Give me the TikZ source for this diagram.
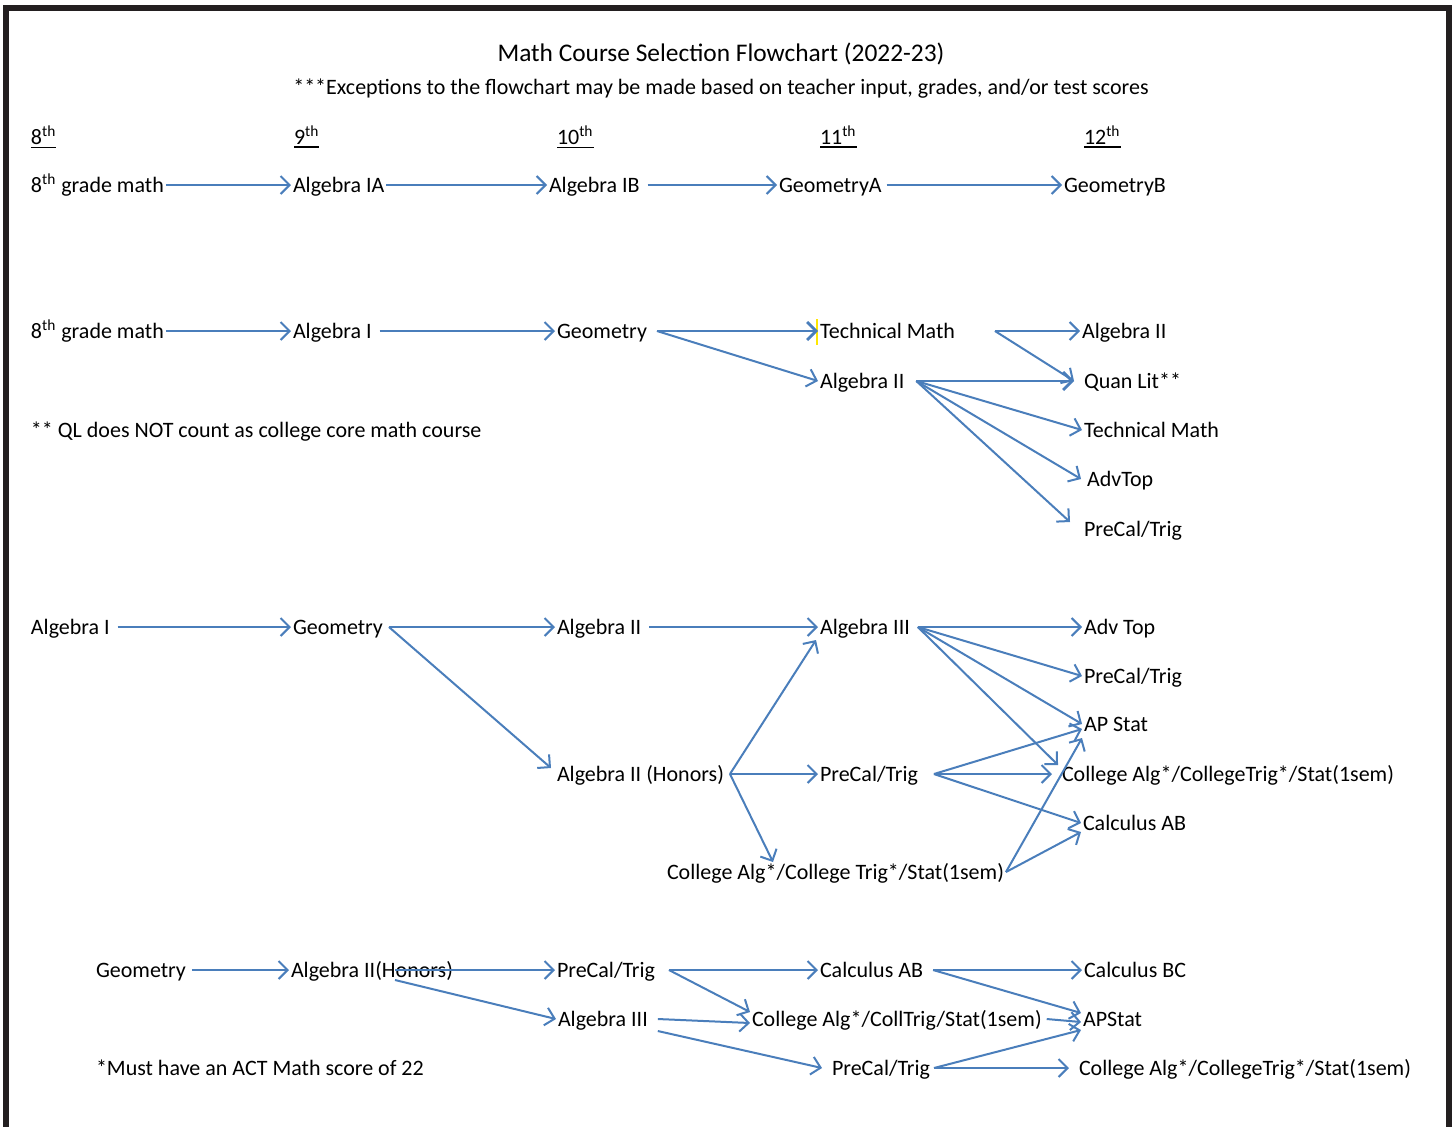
\documentclass[tikz,border=0pt]{standalone}
\usepackage{fontspec}
\setmainfont{Carlito}
\usetikzlibrary{arrows.meta}
\definecolor{arrblue}{RGB}{74,126,187}
\definecolor{framec}{RGB}{35,31,32}
\newcommand{\ulgrade}[1]{\setbox0=\hbox{#1}\vtop{\box0\kern0.9pt\hrule height 0.9pt}}
\begin{document}
\begin{tikzpicture}[x=0.5pt,y=-0.5pt,
  lbl/.style={anchor=west, inner xsep=1pt, inner ysep=0pt, outer sep=0pt, text height=7.6pt, text depth=0pt, font=\fontsize{11}{13}\selectfont},
  hdr/.style={lbl},
  arr/.style={draw=arrblue, line width=1pt, -{Straight Barb[length=4.5pt,width=9pt]}},
  thickarr/.style={arr, line width=1.4pt}]
\useasboundingbox (0,0) rectangle (1454,1126);
% frame
\draw[framec, line width=3pt, line join=miter] (5.5,1130) -- (5.5,8) -- (1448.5,8) -- (1448.5,1130);
% titles
\node[anchor=center, font=\fontsize{12.7}{15}\selectfont] (title) at (721,54) {Math Course Selection Flowchart (2022-23)};
\node[anchor=center, font=\fontsize{11}{13}\selectfont] (sub) at (721,89) {***Exceptions to the flowchart may be made based on teacher input, grades, and/or test scores};
% grade headers
\node[hdr] (g8) at (29,137) {\ulgrade{8\textsuperscript{th}}};
\node[hdr] (g9) at (292,137) {\ulgrade{9\textsuperscript{th}}};
\node[hdr] (g10) at (555,137) {\ulgrade{10\textsuperscript{th}}};
\node[hdr] (g11) at (818,137) {\ulgrade{11\textsuperscript{th}}};
\node[hdr] (g12) at (1082,137) {\ulgrade{12\textsuperscript{th}}};
% row 1
\node[lbl] (r1a) at (29,185) {8\textsuperscript{th} grade math};
\node[lbl] (r1b) at (291,185) {Algebra IA};
\node[lbl] (r1c) at (547,185) {Algebra IB};
\node[lbl] (r1d) at (777,185) {GeometryA};
\node[lbl] (r1e) at (1062,185) {GeometryB};
\draw[arr] (r1a.east) -- (r1b.west);
\draw[arr] (r1b.east) -- (r1c.west);
\draw[arr] ([xshift=3pt]r1c.east) -- (r1d.west);
\draw[arr] ([xshift=1.5pt]r1d.east) -- (r1e.west);
% row 2
\node[lbl] (r2a) at (29,331) {8\textsuperscript{th} grade math};
\node[lbl] (r2b) at (291,331) {Algebra I};
\node[lbl] (r2c) at (555,331) {Geometry};
\node[lbl] (r2d) at (818,331) {Technical Math};
\node[lbl] (r2e) at (818,381) {Algebra II};
\node[lbl] (r2f) at (1080,331) {Algebra II};
\node[lbl] (r2g) at (1082,381) {Quan Lit**};
\node[lbl] (r2h) at (1082,430) {Technical Math};
\node[lbl] (r2i) at (1085,479) {AdvTop};
\node[lbl] (r2j) at (1082,529) {PreCal/Trig};
\node[lbl] (n1) at (29,430) {** QL does NOT count as college core math course};
\draw[yellow!90!orange, line width=1pt] ([xshift=-0.5pt,yshift=6pt]r2d.west) -- ([xshift=-0.5pt,yshift=-7pt]r2d.west);
\draw[arr] (r2a.east) -- (r2b.west);
\draw[arr] ([xshift=3pt]r2b.east) -- (r2c.west);
\draw[thickarr] ([xshift=4pt]r2c.east) -- (r2d.west);
\draw[arr] ([xshift=4pt]r2c.east) -- (r2e.west);
\draw[arr] ([xshift=19pt]r2d.east) -- (r2f.west);
\draw[arr] ([xshift=19pt]r2d.east) -- ([xshift=-4pt]r2g.west);
\draw[thickarr] ([xshift=5pt]r2e.east) -- ([xshift=-4pt]r2g.west);
\draw[arr] ([xshift=5pt]r2e.east) -- (r2h.west);
\draw[arr] ([xshift=5pt]r2e.east) -- ([xshift=-2pt]r2i.west);
\draw[arr] ([xshift=5pt]r2e.east) -- ([xshift=-6pt,yshift=3.5pt]r2j.west);
% row 3
\node[lbl] (r3a) at (29,627) {Algebra I};
\node[lbl] (r3b) at (291,627) {Geometry};
\node[lbl] (r3c) at (555,627) {Algebra II};
\node[lbl] (r3d) at (818,627) {Algebra III};
\node[lbl] (r3e) at (1082,627) {Adv Top};
\node[lbl] (r3f) at (1082,676) {PreCal/Trig};
\node[lbl] (r3g) at (1082,724) {AP Stat};
\node[lbl] (r3h) at (555,774) {Algebra II (Honors)};
\node[lbl] (r3i) at (818,774) {PreCal/Trig};
\node[lbl] (r3j) at (1060,774) {College Alg*/CollegeTrig*/Stat(1sem)};
\node[lbl] (r3k) at (1081,823) {Calculus AB};
\node[lbl] (r3l) at (665,872) {College Alg*/College Trig*/Stat(1sem)};
\draw[arr] ([xshift=3pt]r3a.east) -- (r3b.west);
\draw[arr] ([xshift=2pt]r3b.east) -- (r3c.west);
\draw[arr] ([xshift=2pt]r3b.east) -- ([xshift=-2pt,yshift=3pt]r3h.west);
\draw[arr] ([xshift=3pt]r3c.east) -- (r3d.west);
\draw[arr] ([xshift=2pt]r3h.east) -- ([xshift=-1pt,yshift=-6.5pt]r3d.west);
\draw[arr] ([xshift=2pt]r3h.east) -- (r3i.west);
\draw[arr] ([xshift=2pt]r3h.east) -- ([xshift=54pt,yshift=5pt]r3l.west);
\draw[arr] ([xshift=3pt]r3d.east) -- (r3e.west);
\draw[arr] ([xshift=3pt]r3d.east) -- (r3f.west);
\draw[arr] ([xshift=3pt]r3d.east) -- (r3g.west);
\draw[arr] ([xshift=3pt]r3d.east) -- ([xshift=-1pt,yshift=4.5pt]r3j.west);
\draw[arr] ([xshift=7pt]r3i.east) -- ([yshift=-2.5pt]r3g.west);
\draw[arr] ([xshift=7pt]r3i.east) -- ([xshift=-4pt]r3j.west);
\draw[arr] ([xshift=7pt]r3i.east) -- (r3k.west);
\draw[arr] (r3l.east) -- ([yshift=-7pt]r3g.west);
\draw[arr] (r3l.east) -- ([yshift=-4.5pt]r3k.west);
% row 4
\node[lbl] (r4a) at (94,970) {Geometry};
\node[lbl] (r4b) at (289,970) {Algebra II(Honors)};
\node[lbl] (r4c) at (555,970) {PreCal/Trig};
\node[lbl] (r4d) at (556,1019) {Algebra III};
\node[lbl] (r4e) at (818,970) {Calculus AB};
\node[lbl] (r4f) at (750,1019) {College Alg*/CollTrig/Stat(1sem)};
\node[lbl] (r4g) at (830,1068) {PreCal/Trig};
\node[lbl] (r4h) at (1082,970) {Calculus BC};
\node[lbl] (r4i) at (1081,1019) {APStat};
\node[lbl] (r4j) at (1077,1068) {College Alg*/CollegeTrig*/Stat(1sem)};
\node[lbl] (n2) at (94,1068) {*Must have an ACT Math score of 22};
\draw[arr] ([xshift=2pt]r4a.east) -- (r4b.west);
\draw[arr] ([xshift=53pt]r4b.west) -- (r4c.west);
\draw[arr] ([xshift=53pt,yshift=-5pt]r4b.west) -- (r4d.west);
\draw[arr] ([xshift=6pt]r4c.east) -- (r4e.west);
\draw[arr] ([xshift=6pt]r4c.east) -- ([yshift=3.5pt]r4f.west);
\draw[arr] ([xshift=4pt]r4d.east) -- ([yshift=-2pt]r4f.west);
\draw[arr] ([xshift=4pt,yshift=-6pt]r4d.east) -- ([xshift=-4pt]r4g.west);
\draw[arr] ([xshift=4pt]r4e.east) -- (r4h.west);
\draw[arr] ([xshift=4pt]r4e.east) -- ([yshift=3pt]r4i.west);
\draw[arr] ([xshift=1.5pt]r4f.east) -- ([yshift=-1.5pt]r4i.west);
\draw[arr] ([xshift=1pt]r4g.east) -- ([yshift=-5.5pt]r4i.west);
\draw[arr] ([xshift=1pt]r4g.east) -- ([xshift=-4pt]r4j.west);
\end{tikzpicture}
\end{document}
